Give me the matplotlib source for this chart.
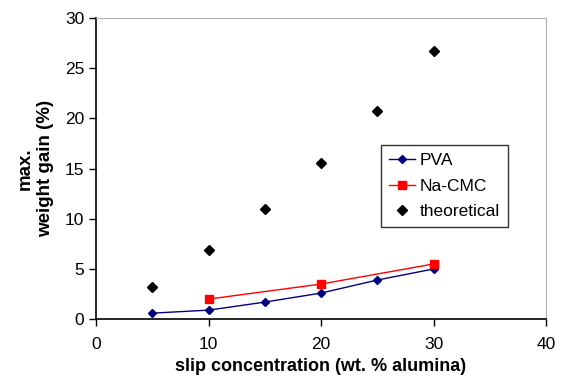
import matplotlib
matplotlib.use("Agg")
import matplotlib.pyplot as plt

plt.rcParams['font.family'] = ['Liberation Sans', 'DejaVu Sans']

conc = [5, 10, 15, 20, 25, 30]
pva = [0.6, 0.9, 1.7, 2.6, 3.9, 5.0]
cmc_conc = [10, 20, 30]
cmc = [2.0, 3.5, 5.5]
theoretical = [3.2, 6.9, 11.0, 15.6, 20.7, 26.7]

fig = plt.figure(figsize=(5.62, 3.85), dpi=100)
ax = fig.add_axes([0.171, 0.171, 0.8005, 0.782])

ax.plot(conc, pva, color='#000080', marker='D', markersize=4.5, lw=1, label='PVA')
ax.plot(cmc_conc, cmc, color='#ff0000', marker='s', markersize=6, lw=1, label='Na-CMC')
ax.plot(conc, theoretical, color='black', marker='D', markersize=5.5, ls='none', label='theoretical')

ax.set_xlim(0, 40)
ax.set_ylim(0, 30)
ax.set_xticks([0, 10, 20, 30, 40])
ax.set_yticks([0, 5, 10, 15, 20, 25, 30])
ax.tick_params(direction='out', length=5, width=1, labelsize=12.5, colors='black')
ax.tick_params(axis='x', pad=8)
for s in ['top', 'right']:
    ax.spines[s].set_color('#b0b0b0')
for s in ['left', 'bottom']:
    ax.spines[s].set_linewidth(1.2)

ax.set_xlabel('slip concentration (wt. % alumina)', fontsize=13, fontweight='bold', labelpad=4)
ax.set_ylabel('max.\nweight gain (%)', fontsize=13.5, fontweight='bold', labelpad=8)

leg = ax.legend(loc='upper left', bbox_to_anchor=(0.633, 0.578), borderaxespad=0, fontsize=12.5,
                frameon=True, fancybox=False, edgecolor='black', handlelength=1.5, borderpad=0.45,
                labelspacing=0.6, handletextpad=0.3)
leg.get_frame().set_linewidth(1)

fig.savefig('out.png', dpi=100)
